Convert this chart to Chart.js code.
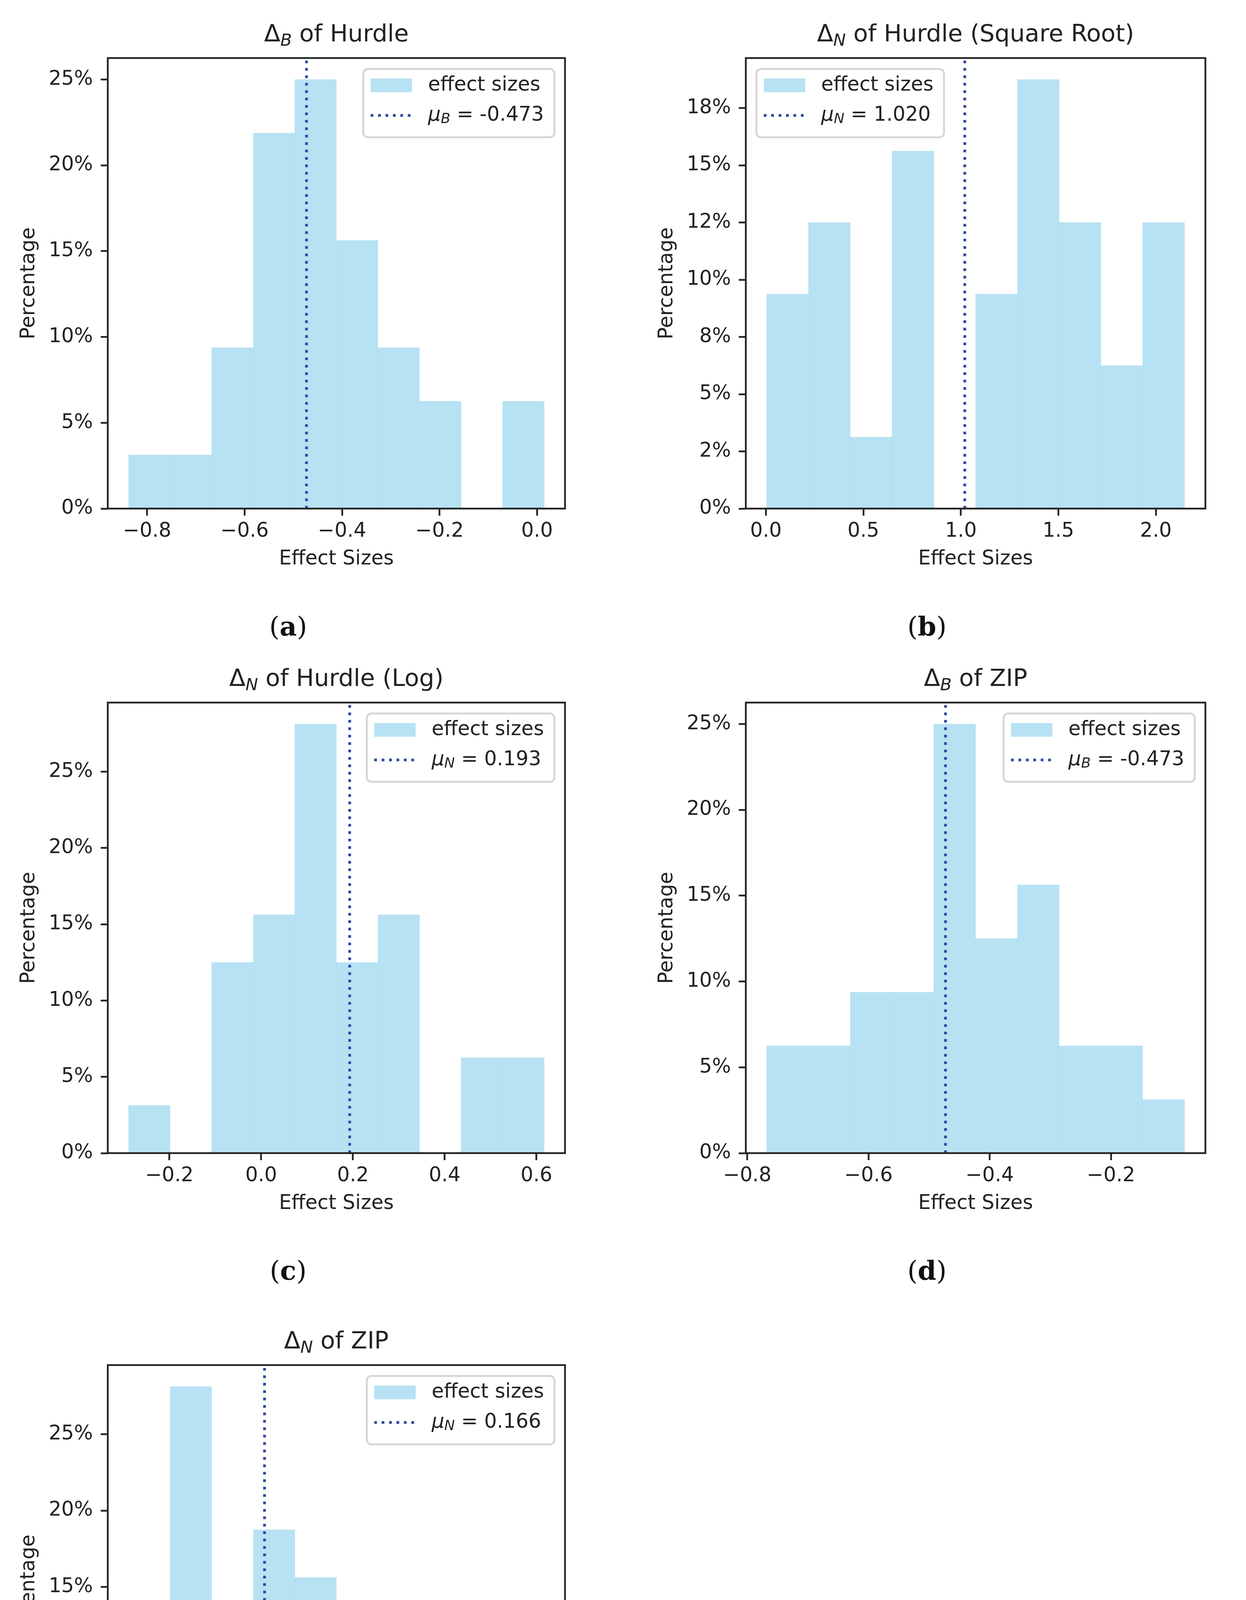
<!DOCTYPE html>
<html>
<head>
<meta charset="utf-8">
<script src="https://cdn.jsdelivr.net/npm/chart.js@4.4.0/dist/chart.umd.min.js"></script>
<style>
    html, body { margin: 0; padding: 0; background: #fff; }
    body { width: 3191px; height: 5019px; position: relative; overflow: hidden; font-family: "DejaVu Sans"; color: #222; }
    canvas { position: absolute; }
    .title { position: absolute; text-align: center; font-size: 61px; line-height: 1; white-space: nowrap; }
    .title sub { font-size: 70%; font-style: italic; vertical-align: -0.25em; line-height: 0; }
    .cap { position: absolute; width: 300px; text-align: center; font-family: "DejaVu Serif"; font-size: 68px; line-height: 1; color: #111; }
</style>
</head>
<body>
<script>
// --- Data ---
const titleSubs = ['B', 'N', 'N', 'B', 'N'];
const titleRest = ['of Hurdle', 'of Hurdle (Square Root)', 'of Hurdle (Log)', 'of ZIP', 'of ZIP'];
const captions = ['a', 'b', 'c', 'd', 'e'];
const legendLabel = 'effect sizes';
const xTitle = 'Effect Sizes';
const yTitle = 'Percentage';

// bin edges (10 bins each)
const edgesA = [-0.838, -0.7527, -0.6675, -0.5822, -0.4969, -0.4117, -0.3264, -0.2411, -0.1558, -0.0706, 0.0147];
const edgesB = [0.004, 0.2183, 0.4326, 0.6469, 0.8612, 1.0755, 1.2898, 1.5041, 1.7184, 1.9327, 2.147];
const edgesC = [-0.289, -0.1984, -0.1078, -0.0172, 0.0734, 0.164, 0.2546, 0.3452, 0.4358, 0.5264, 0.617];
const edgesD = [-0.768, -0.6991, -0.6301, -0.5612, -0.4923, -0.4234, -0.3544, -0.2855, -0.2166, -0.1476, -0.0787];
const edgesE = [-0.0735, -0.0003, 0.073, 0.1462, 0.2194, 0.2926, 0.3658, 0.4391, 0.5123, 0.5855, 0.6587];

// percentage of effect sizes in each bin
const pctA = [3.125, 3.125, 9.375, 21.875, 25, 15.625, 9.375, 6.25, 0, 6.25];
const pctB = [9.375, 12.5, 3.125, 15.625, 0, 9.375, 18.75, 12.5, 6.25, 12.5];
const pctC = [3.125, 0, 12.5, 15.625, 28.125, 12.5, 15.625, 0, 6.25, 6.25];
const pctD = [6.25, 6.25, 9.375, 9.375, 25, 12.5, 15.625, 6.25, 6.25, 3.125];
const pctE = [6.25, 28.125, 9.375, 18.75, 15.625, 9.375, 6.25, 3.125, 0, 3.125];

// mean of each panel (dotted line)
const means = [-0.473, 1.020, 0.193, -0.473, 0.166];

// tick values and labels
const xTicksA = [-0.8, -0.6, -0.4, -0.2, 0.0];
const xLabelsA = ['\u22120.8', '\u22120.6', '\u22120.4', '\u22120.2', '0.0'];
const xTicksB = [0.0, 0.5, 1.0, 1.5, 2.0];
const xLabelsB = ['0.0', '0.5', '1.0', '1.5', '2.0'];
const xTicksC = [-0.2, 0.0, 0.2, 0.4, 0.6];
const xLabelsC = ['\u22120.2', '0.0', '0.2', '0.4', '0.6'];
const xTicksD = [-0.8, -0.6, -0.4, -0.2];
const xLabelsD = ['\u22120.8', '\u22120.6', '\u22120.4', '\u22120.2'];
const xTicksE = [0.0, 0.2, 0.4, 0.6];
const xLabelsE = ['0.0', '0.2', '0.4', '0.6'];
const yTicks5 = [0, 5, 10, 15, 20, 25];
const yLabels5 = ['0%', '5%', '10%', '15%', '20%', '25%'];
const yTicksB = [0, 2.5, 5, 7.5, 10, 12.5, 15, 17.5];
const yLabelsB = ['0%', '2%', '5%', '8%', '10%', '12%', '15%', '18%'];

// --- Styles / layout ---
const ink = '#222222';
const barColor = 'rgba(135, 206, 235, 0.6)';
const lineColor = '#324ba5';
const FONT = 'DejaVu Sans';
const FS = 51;
const PADL = 260, PADT = 40, PADR = 40, XAXH = 190;

// plot area of each panel in page pixels
const boxes = [
    { left: 276, top: 138, w: 1171, h: 1164, capX: 738, capY: 1605 },
    { left: 1910, top: 138, w: 1177, h: 1164, capX: 2374, capY: 1605 },
    { left: 276, top: 1788, w: 1171, h: 1164, capX: 738, capY: 3254 },
    { left: 1910, top: 1788, w: 1177, h: 1164, capX: 2374, capY: 3254 },
    { left: 276, top: 3484, w: 1171, h: 1165, capX: 738, capY: 4951 },
];

// --- Plugins: matplotlib-like frame and legend ---
const mplFrame = {
    id: 'mplFrame',
    afterDatasetsDraw(chart) {
        const { ctx, chartArea: a } = chart;
        ctx.save();
        ctx.strokeStyle = ink;
        ctx.lineWidth = 4.5;
        ctx.strokeRect(a.left, a.top, a.right - a.left, a.bottom - a.top);
        ctx.restore();
    }
};

const mplLegend = {
    id: 'mplLegend',
    afterDraw(chart, args, o) {
        const { ctx, chartArea: a } = chart;
        const normal = `${FS}px "${FONT}"`;
        const ital = `italic ${FS}px "${FONT}"`;
        const subF = `italic ${Math.round(FS * 0.7)}px "${FONT}"`;
        const rest = ' = ' + o.value.toFixed(3);

        ctx.save();
        ctx.font = normal;
        const w1 = ctx.measureText(legendLabel).width;
        const wRest = ctx.measureText(rest).width;
        ctx.font = ital;
        const wMu = ctx.measureText('\u03bc').width;
        ctx.font = subF;
        const wSub = ctx.measureText(o.sub).width;
        const w2 = wMu + wSub + wRest;

        const pad = 20, hl = 106, hp = 41;
        const bw = pad + hl + hp + Math.max(w1, w2) + pad + 6;
        const bh = 175;
        const bx = o.loc === 'left' ? a.left + 27 : a.right - 27 - bw;
        const by = a.top + 28;

        ctx.beginPath();
        ctx.roundRect(bx, by, bw, bh, 12);
        ctx.fillStyle = 'rgba(255,255,255,0.8)';
        ctx.fill();
        ctx.lineWidth = 5;
        ctx.strokeStyle = '#d6d6d6';
        ctx.stroke();

        const hx = bx + 19, r1 = by + 42, r2 = by + 119;
        ctx.fillStyle = barColor;
        ctx.fillRect(hx, r1 - 17.5, hl, 35);

        ctx.beginPath();
        ctx.setLineDash([7, 12]);
        ctx.lineWidth = 7;
        ctx.strokeStyle = lineColor;
        ctx.moveTo(hx, r2);
        ctx.lineTo(hx + hl, r2);
        ctx.stroke();
        ctx.setLineDash([]);

        const tx = hx + hl + hp;
        ctx.fillStyle = ink;
        ctx.textAlign = 'left';
        ctx.textBaseline = 'middle';
        ctx.font = normal;
        ctx.fillText(legendLabel, tx, r1);
        ctx.font = ital;
        ctx.fillText('\u03bc', tx, r2);
        ctx.font = subF;
        ctx.fillText(o.sub, tx + wMu, r2 + 10);
        ctx.font = normal;
        ctx.fillText(rest, tx + wMu + wSub, r2);
        ctx.restore();
    }
};

// --- Build one histogram panel ---
function makePanel(i, edges, pct, xTicks, xLabels, yTicks, yLabels, legendLoc) {
    const b = boxes[i];

    // title (HTML so the subscript stays real text)
    const t = document.createElement('div');
    t.className = 'title';
    t.style.left = b.left + 'px';
    t.style.width = b.w + 'px';
    t.style.top = (b.top - 55 - 29) + 'px';
    t.innerHTML = `\u0394<sub>${titleSubs[i]}</sub> ${titleRest[i]}`;
    document.body.appendChild(t);

    // caption (a), (b) ...
    const c = document.createElement('div');
    c.className = 'cap';
    c.style.left = (b.capX - 150) + 'px';
    c.style.top = (b.capY - 36) + 'px';
    c.innerHTML = `(<b>${captions[i]}</b>)`;
    document.body.appendChild(c);

    const canvas = document.createElement('canvas');
    canvas.width = PADL + b.w + PADR;
    canvas.height = PADT + b.h + XAXH;
    canvas.style.left = (b.left - PADL) + 'px';
    canvas.style.top = (b.top - PADT) + 'px';
    canvas.style.width = canvas.width + 'px';
    canvas.style.height = canvas.height + 'px';
    document.body.appendChild(canvas);

    const centers = pct.map((_, k) => (edges[k] + edges[k + 1]) / 2);
    const span = edges[edges.length - 1] - edges[0];
    const xMin = edges[0] - 0.05 * span;
    const xMax = edges[edges.length - 1] + 0.05 * span;
    const yMax = Math.max(...pct) * 1.05;
    const font = { family: FONT, size: FS };

    new Chart(canvas, {
        type: 'bar',
        data: {
            datasets: [
                {
                    type: 'line',
                    data: [{ x: means[i], y: 0 }, { x: means[i], y: yMax }],
                    borderColor: lineColor,
                    borderWidth: 7,
                    borderDash: [7, 12],
                    borderCapStyle: 'butt',
                    pointRadius: 0,
                    fill: false,
                    order: 0
                },
                {
                    type: 'bar',
                    data: centers.map((x, k) => ({ x: x, y: pct[k] })),
                    backgroundColor: barColor,
                    borderWidth: 0,
                    barPercentage: 1,
                    categoryPercentage: 1,
                    order: 1
                }
            ]
        },
        options: {
            responsive: false,
            animation: false,
            devicePixelRatio: 1,
            events: [],
            layout: { padding: { left: 0, top: PADT, right: PADR, bottom: 0 } },
            plugins: {
                legend: { display: false },
                tooltip: { enabled: false },
                mplLegend: { loc: legendLoc, sub: titleSubs[i], value: means[i] }
            },
            scales: {
                x: {
                    type: 'linear',
                    min: xMin,
                    max: xMax,
                    bounds: 'data',
                    offset: false,
                    grid: { offset: false, drawOnChartArea: false, drawTicks: true, tickLength: 18, tickWidth: 4.5, tickColor: ink },
                    border: { display: false },
                    ticks: { font: font, color: ink, padding: 10, maxRotation: 0, autoSkip: false, callback: (v, k) => xLabels[k] },
                    afterBuildTicks: s => { s.ticks = xTicks.map(v => ({ value: v })); },
                    afterFit: s => { s.height = XAXH; },
                    title: { display: true, text: xTitle, font: font, color: ink, padding: { top: 0, bottom: 30 } }
                },
                y: {
                    type: 'linear',
                    min: 0,
                    max: yMax,
                    bounds: 'data',
                    grid: { drawOnChartArea: false, drawTicks: true, tickLength: 18, tickWidth: 4.5, tickColor: ink },
                    border: { display: false },
                    ticks: { font: font, color: ink, padding: 20, autoSkip: false, callback: (v, k) => yLabels[k] },
                    afterBuildTicks: s => { s.ticks = yTicks.map(v => ({ value: v })); },
                    afterFit: s => { s.width = PADL; },
                    title: { display: true, text: yTitle, font: font, color: ink, padding: { top: 28, bottom: 0 } }
                }
            }
        },
        plugins: [mplFrame, mplLegend]
    });
}

makePanel(0, edgesA, pctA, xTicksA, xLabelsA, yTicks5, yLabels5, 'right');
makePanel(1, edgesB, pctB, xTicksB, xLabelsB, yTicksB, yLabelsB, 'left');
makePanel(2, edgesC, pctC, xTicksC, xLabelsC, yTicks5, yLabels5, 'right');
makePanel(3, edgesD, pctD, xTicksD, xLabelsD, yTicks5, yLabels5, 'right');
makePanel(4, edgesE, pctE, xTicksE, xLabelsE, yTicks5, yLabels5, 'right');
</script>
</body>
</html>
